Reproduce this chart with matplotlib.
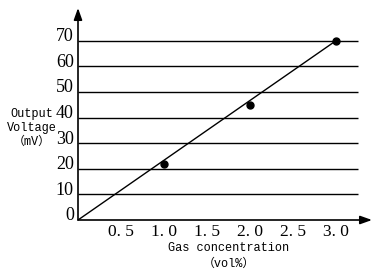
import numpy as np
import matplotlib.pyplot as plt
import matplotlib.transforms as mtransforms

# data
conc = [1.0, 2.0, 3.0]
voltage = [22, 45, 70]
fit_x = [0.0, 3.0]
fit_y = [0.0, 70.0]
grid_levels = [10, 20, 30, 40, 50, 60, 70]
xticks = [0.5, 1.0, 1.5, 2.0, 2.5, 3.0]
xtick_labels = ['0. 5', '1. 0', '1. 5', '2. 0', '2. 5', '3. 0']
yticks = [0, 10, 20, 30, 40, 50, 60, 70]

W, H = 371, 273
mono = ['Liberation Mono', 'Noto Sans CJK SC']

fig = plt.figure(figsize=(W / 100, H / 100), dpi=100)
# axes box in pixels: origin (78, 220), right end 372, top 8
ax = fig.add_axes([78 / W, (H - 220) / H, (372 - 78) / W, (220 - 8) / H])
ax.set_xlim(0, 3.42)
ax.set_ylim(0, 82.8)
for s in ax.spines.values():
    s.set_visible(False)

ax.hlines(grid_levels, 0, 3.26, color='black', lw=1.0)
ax.plot(fit_x, fit_y, color='black', lw=1.0)
ax.plot(conc, voltage, 'o', color='black', markersize=5)

# axes with arrows
arrow = dict(arrowstyle='-|>,head_length=0.7,head_width=0.25',
             color='black', lw=1.2, shrinkA=0, shrinkB=0)
ax.annotate('', xy=(1.0, 0), xytext=(0, 0), xycoords='axes fraction',
            arrowprops=arrow, annotation_clip=False)
ax.annotate('', xy=(0, 1.0), xytext=(0, 0), xycoords='axes fraction',
            arrowprops=arrow, annotation_clip=False)

ax.set_xticks(xticks)
ax.set_xticklabels(xtick_labels, family='Liberation Serif', fontsize=12.5)
ax.set_yticks(yticks)
ax.set_yticklabels([str(v) for v in yticks], family='Liberation Serif', fontsize=13)
ax.tick_params(axis='x', length=0, pad=3)
ax.tick_params(axis='y', length=0, pad=3)
up = mtransforms.ScaledTranslation(0, 4 / 100, fig.dpi_scale_trans)
for lbl in ax.get_yticklabels():
    lbl.set_verticalalignment('center')
    lbl.set_transform(lbl.get_transform() + up)

fig.text(32 / W, 1 - 128 / H, 'Output\nVoltage\n（mV）', ha='center', va='center',
         multialignment='center', family=mono, fontsize=8.6, linespacing=1.25)
fig.text(229 / W, 1 - 248 / H, 'Gas concentration', ha='center', va='center',
         family=mono, fontsize=8.6)
fig.text(229 / W, 1 - 264 / H, '（vol%）', ha='center', va='center',
         family=mono, fontsize=8.6)

fig.savefig('out.png', dpi=100)
